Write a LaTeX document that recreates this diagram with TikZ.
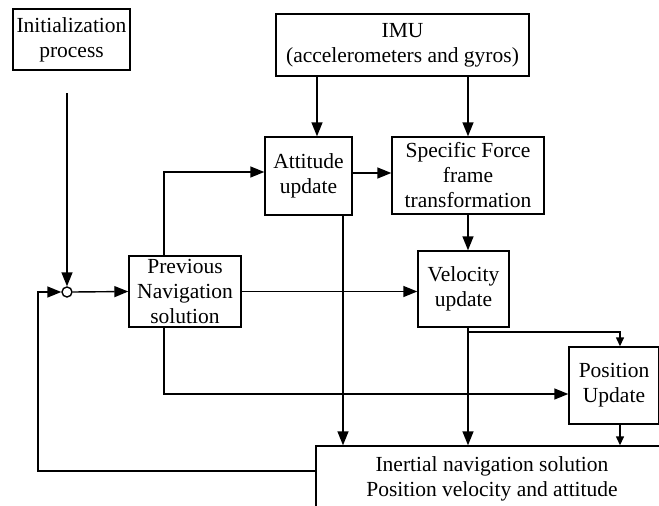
\documentclass[tikz,border=0pt]{standalone}
\usepackage{fontspec}
\setmainfont{Liberation Serif}
\usetikzlibrary{arrows.meta}
\begin{document}
\begin{tikzpicture}[x=1pt,y=-1pt,
  box/.style={draw, line width=1.4pt, align=center, inner sep=0pt, font=\fontsize{21.5}{25}\selectfont},
  arr/.style={line width=1.4pt, -{Triangle[length=14pt,width=11pt]}},
  arrs/.style={line width=1.4pt, -{Triangle[length=9pt,width=8pt]}},
  ln/.style={line width=1.4pt}]
\useasboundingbox (0,0) rectangle (659,506);
\clip (0,0) rectangle (659,506);
\node[box, minimum width=117pt, minimum height=61pt] (init) at (71.5,39.5) {Initialization\\process};
\node[box, minimum width=253pt, minimum height=62pt] (imu) at (402.5,45) {IMU\\(accelerometers and gyros)};
\node[box, minimum width=87pt, minimum height=78pt] (att) at (308.5,176) {Attitude\\update};
\node[box, minimum width=152pt, minimum height=77pt] (sf) at (468,175.5) {Specific Force\\frame\\transformation};
\node[box, minimum width=112pt, minimum height=71pt] (prev) at (185,291.5) {Previous\\Navigation\\solution};
\node[box, minimum width=91pt, minimum height=76pt] (vel) at (463.5,289) {Velocity\\update};
\node[box, minimum width=90pt, minimum height=77pt] (pos) at (614,385.5) {Position\\Update};
\node[box, minimum width=352pt, minimum height=66pt] (ins) at (492,479) {Inertial navigation solution\\Position velocity and attitude};
\node[circle, draw, line width=1.4pt, minimum size=10pt, inner sep=0pt] (sum) at (67,292) {};
\coordinate (initstart) at (67,93);
\coordinate (xA) at (317,0);
\coordinate (xB) at (343,0);
\coordinate (xP) at (164,0);
\coordinate (xV) at (468,0);
\coordinate (xQ) at (620,0);
\coordinate (branch) at (468,332);
\coordinate (fb) at (38,471);
\draw[arr] (initstart) -- (sum.north);
\draw[arr] (sum.east) -- (prev.west);
\draw[arr] (imu.south -| xA) -- (att.north -| xA);
\draw[arr] (imu.south -| sf.north) -- (sf.north);
\draw[arr] ([yshift=3pt]att.east) -- ([yshift=3pt]att.east -| sf.west);
\draw[arr] (prev.north -| xP) |- ([yshift=4pt]att.west);
\draw[arr] (prev.east) -- (prev.east -| vel.west);
\draw[arr] (sf.south -| xV) -- (vel.north -| xV);
\draw[arr] (prev.south -| xP) |- ([yshift=-8.5pt]pos.west);
\draw[arr] (att.south -| xB) -- (ins.north -| xB);
\draw[arr] (vel.south -| xV) -- (ins.north -| xV);
\draw[arrs] (branch) -| (pos.north -| xQ);
\draw[arrs] (pos.south -| xQ) -- (ins.north -| xQ);
\draw[arr] (ins.west |- fb) -- (fb) |- (sum.west);
\end{tikzpicture}
\end{document}
